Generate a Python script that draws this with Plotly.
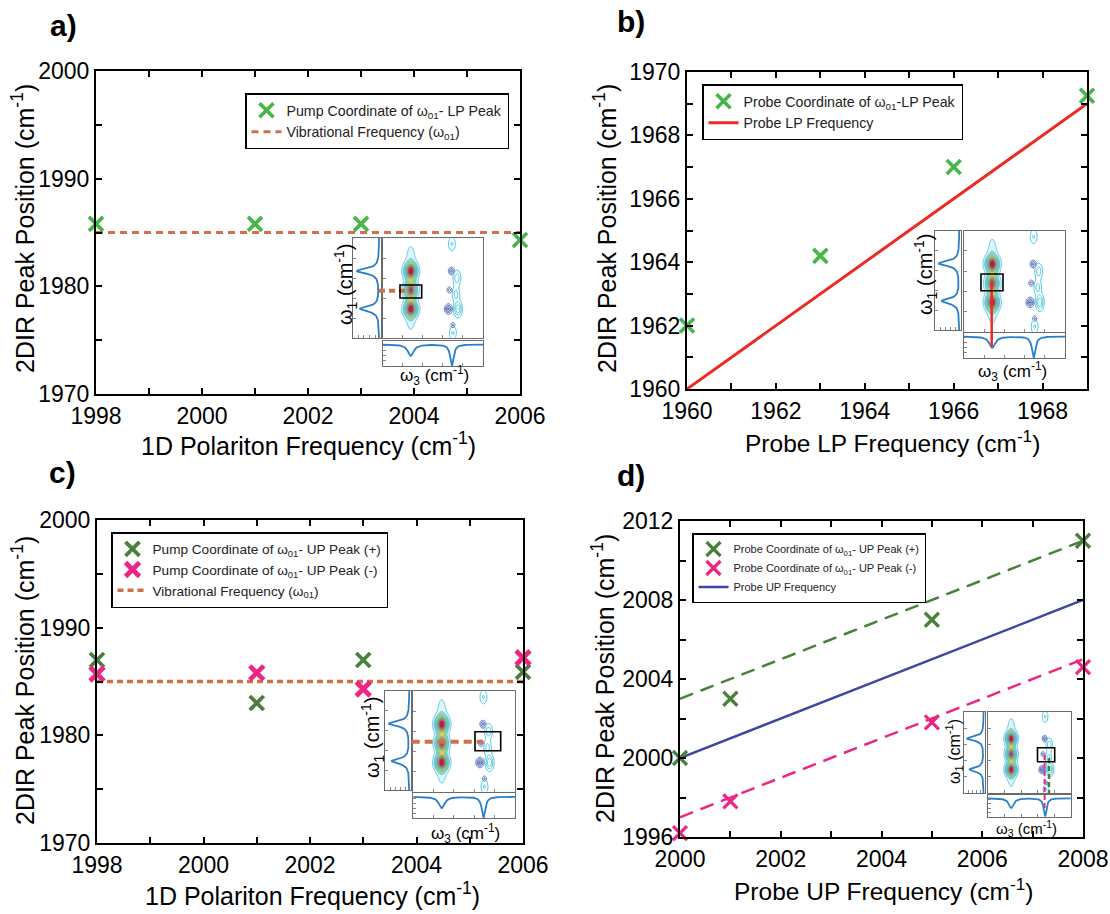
import numpy as np
import plotly.graph_objects as go

W, H = 1110, 914
FONT = "Liberation Sans, Arial, sans-serif"

# ---------------- data ----------------
A_X = [1998, 2001, 2003, 2006]
A_LP_PUMP = [1985.8, 1985.8, 1985.8, 1984.3]
A_VIB_X = [1998, 2006]
A_VIB_Y = [1985, 1985]

B_X = [1960, 1963, 1966, 1969]
B_LP_PROBE = [1962.0, 1964.2, 1967.0, 1969.25]
B_LINE_X = [1960, 1969]
B_LINE_Y = [1960, 1969]

C_X = [1998, 2001, 2003, 2006]
C_UP_PLUS = [1987.0, 1983.0, 1987.0, 1985.9]
C_UP_MINUS = [1985.7, 1985.8, 1984.3, 1987.2]
C_VIB_X = [1998, 2006]
C_VIB_Y = [1985, 1985]

D_X = [2000, 2001, 2005, 2008]
D_UP_PLUS = [2000.0, 2003.0, 2007.0, 2011.0]
D_UP_MINUS = [1996.2, 1997.8, 2001.8, 2004.6]
D_LINE_X = [2000, 2008]
D_UP_FREQ = [2000, 2008]
D_PLUS_FIT = [2003, 2011]
D_MINUS_FIT = [1997, 2005]

# tick label values and minor tick spacing
A_XLABELS = [1998, 2000, 2002, 2004, 2006]
A_YLABELS = [1970, 1980, 1990, 2000]
B_XLABELS = [1960, 1962, 1964, 1966, 1968]
B_YLABELS = [1960, 1962, 1964, 1966, 1968, 1970]
D_XLABELS = [2000, 2002, 2004, 2006, 2008]
D_YLABELS = [1996, 2000, 2004, 2008, 2012]

# inset (2D IR spectrum) peak lists, in inset fractional units
DIAG_X = [0.28, 0.28, 0.28]
DIAG_Y = [0.67, 0.48, 0.29]
DIAG_AMP = [1.0, 0.8, 1.0]
NEG_X = [0.685, 0.665, 0.655, 0.70]
NEG_Y = [0.67, 0.48, 0.29, 0.13]
NEG_AMP = [-0.6, -0.45, -0.8, -0.4]
NEG_W = [0.018, 0.016, 0.022, 0.014]
POS_X = [0.74, 0.73, 0.75, 0.69, 0.70]
POS_Y = [0.60, 0.44, 0.29, 0.94, 0.05]
POS_AMP = [0.4, 0.35, 0.6, 0.3, 0.3]
SPEC1_POS = [0.67, 0.29]
SPEC1_DEPTH = [0.8, 0.7]
SPEC3_POS = [0.28, 0.69]
SPEC3_DEPTH = [0.45, 0.85]


def px(x):
    return x / W


def py(y):
    return 1 - y / H


fig = go.Figure()

# ---------------- main axes ----------------
MAIN = {
    1: ([96, 520], [71, 394]),
    2: ([687, 1087], [72, 389]),
    3: ([97, 523], [520, 843]),
    4: ([680, 1083], [521, 837]),
}


def main_axis(dom, horizontal, rng, labels, minor_dtick, anchor):
    return dict(
        domain=[px(dom[0]), px(dom[1])] if horizontal else [py(dom[1]), py(dom[0])],
        range=rng, anchor=anchor, showline=True, linewidth=2, linecolor="black",
        mirror="ticks", ticks="inside", ticklen=6, tickwidth=1.5, tickcolor="black",
        tickmode="array", tickvals=labels, ticktext=[str(v) for v in labels],
        minor=dict(dtick=minor_dtick, tick0=rng[0], ticks="inside", ticklen=6,
                   tickwidth=1.5, tickcolor="black", showgrid=False),
        showgrid=False, zeroline=False, automargin=False,
        tickfont=dict(family=FONT, size=23, color="black"), fixedrange=True,
    )


layout_axes = {}
layout_axes["xaxis"] = main_axis(MAIN[1][0], True, [1998, 2006], A_XLABELS, 1, "y")
layout_axes["yaxis"] = main_axis(MAIN[1][1], False, [1970, 2000], A_YLABELS, 5, "x")
layout_axes["xaxis2"] = main_axis(MAIN[2][0], True, [1960, 1969], B_XLABELS, 1, "y2")
layout_axes["yaxis2"] = main_axis(MAIN[2][1], False, [1960, 1970], B_YLABELS, 1, "x2")
layout_axes["xaxis3"] = main_axis(MAIN[3][0], True, [1998, 2006], A_XLABELS, 1, "y3")
layout_axes["yaxis3"] = main_axis(MAIN[3][1], False, [1970, 2000], A_YLABELS, 5, "x3")
layout_axes["xaxis4"] = main_axis(MAIN[4][0], True, [2000, 2008], D_XLABELS, 1, "y4")
layout_axes["yaxis4"] = main_axis(MAIN[4][1], False, [1996, 2012], D_YLABELS, 2, "x4")

GREEN = "#46b649"
DGREEN = "#4b7f3e"
PINK = "#ef2585"
ORANGE = "#d0714e"
RED = "#ee2a24"
BLUE = "#3f48a0"


def xmark(color, width=3.6, size=14):
    return dict(symbol="x-thin", size=size, color=color, line=dict(color=color, width=width))


# panel a
fig.add_trace(go.Scatter(x=A_VIB_X, y=A_VIB_Y, mode="lines", xaxis="x", yaxis="y",
                         line=dict(color=ORANGE, width=3, dash="7px,5px"),
                         name="Vibrational Frequency (ω<sub>01</sub>)", legend="legend",
                         legendrank=2, cliponaxis=False))
fig.add_trace(go.Scatter(x=A_X, y=A_LP_PUMP, mode="markers", xaxis="x", yaxis="y",
                         marker=xmark(GREEN), name="Pump Coordinate of ω<sub>01</sub>- LP Peak",
                         legend="legend", legendrank=1, cliponaxis=False))
# panel b
fig.add_trace(go.Scatter(x=B_LINE_X, y=B_LINE_Y, mode="lines", xaxis="x2", yaxis="y2",
                         line=dict(color=RED, width=3), name="Probe LP Frequency",
                         legend="legend2", legendrank=2, cliponaxis=False))
fig.add_trace(go.Scatter(x=B_X, y=B_LP_PROBE, mode="markers", xaxis="x2", yaxis="y2",
                         marker=xmark(GREEN), name="Probe Coordinate of ω<sub>01</sub>-LP Peak",
                         legend="legend2", legendrank=1, cliponaxis=False))
# panel c
fig.add_trace(go.Scatter(x=C_VIB_X, y=C_VIB_Y, mode="lines", xaxis="x3", yaxis="y3",
                         line=dict(color=ORANGE, width=3.5, dash="6px,4px"),
                         name="Vibrational Frequency (ω<sub>01</sub>)", legend="legend3",
                         legendrank=3, cliponaxis=False))
fig.add_trace(go.Scatter(x=C_X, y=C_UP_PLUS, mode="markers", xaxis="x3", yaxis="y3",
                         marker=xmark(DGREEN, 3.8), name="Pump Coordinate of ω<sub>01</sub>- UP Peak (+)",
                         legend="legend3", legendrank=1, cliponaxis=False))
fig.add_trace(go.Scatter(x=C_X, y=C_UP_MINUS, mode="markers", xaxis="x3", yaxis="y3",
                         marker=xmark(PINK, 4.8), name="Pump Coordinate of ω<sub>01</sub>- UP Peak (-)",
                         legend="legend3", legendrank=2, cliponaxis=False))
# panel d
fig.add_trace(go.Scatter(x=D_LINE_X, y=D_PLUS_FIT, mode="lines", xaxis="x4", yaxis="y4",
                         line=dict(color=DGREEN, width=2.5, dash="14px,8px"), showlegend=False,
                         cliponaxis=False))
fig.add_trace(go.Scatter(x=D_LINE_X, y=D_MINUS_FIT, mode="lines", xaxis="x4", yaxis="y4",
                         line=dict(color=PINK, width=2.5, dash="14px,8px"), showlegend=False,
                         cliponaxis=False))
fig.add_trace(go.Scatter(x=D_LINE_X, y=D_UP_FREQ, mode="lines", xaxis="x4", yaxis="y4",
                         line=dict(color=BLUE, width=2.5), name="Probe UP Frequency",
                         legend="legend4", legendrank=3, cliponaxis=False))
fig.add_trace(go.Scatter(x=D_X, y=D_UP_PLUS, mode="markers", xaxis="x4", yaxis="y4",
                         marker=xmark(DGREEN, 3.2), name="Probe Coordinate of ω<sub>01</sub>- UP Peak (+)",
                         legend="legend4", legendrank=1, cliponaxis=False))
fig.add_trace(go.Scatter(x=D_X, y=D_UP_MINUS, mode="markers", xaxis="x4", yaxis="y4",
                         marker=xmark(PINK, 3.2), name="Probe Coordinate of ω<sub>01</sub>- UP Peak (-)",
                         legend="legend4", legendrank=2, cliponaxis=False))

# ---------------- insets ----------------
INSETS = [
    # left spectrum, main 2D, bottom spectrum  (pixel boxes: x0,x1,y0,y1)
    ((352.7, 380.7, 238, 338), (382.7, 483, 238, 338), (382.7, 483, 340.7, 366)),
    ((935, 960.7, 230.7, 330), (964, 1065, 230.7, 331.7), (964, 1065, 332.7, 358)),
    ((385, 410.7, 691, 790), (413.3, 515, 691, 791.7), (413.3, 515, 793, 818)),
    ((964, 984.8, 711.7, 793.3), (988, 1070.8, 711.7, 793.3), (988, 1070.8, 795, 816.7)),
]

g = np.linspace(0, 1, 121)
GX, GY = np.meshgrid(g, g)


def gauss(x0, y0, sx, sy):
    return np.exp(-((GX - x0) ** 2 / (2 * sx ** 2) + (GY - y0) ** 2 / (2 * sy ** 2)))


Zdiag = 0.2 * np.exp(-((GX - 0.28) ** 2 / (2 * 0.035 ** 2)) - ((GY - 0.5) ** 2 / (2 * 0.3 ** 2)) ** 2)
for x0, y0, a in zip(DIAG_X, DIAG_Y, DIAG_AMP):
    Zdiag = Zdiag + a * gauss(x0, y0, 0.04, 0.05)
Zneg = np.zeros_like(GX)
for x0, y0, a, w in zip(NEG_X, NEG_Y, NEG_AMP, NEG_W):
    Zneg = Zneg + a * gauss(x0, y0, w, w * 1.3)
Zpos = np.zeros_like(GX)
for x0, y0, a in zip(POS_X, POS_Y, POS_AMP):
    Zpos = Zpos + a * gauss(x0, y0, 0.025, 0.05)


def lor(u, c, gam):
    return gam ** 2 / ((u - c) ** 2 + gam ** 2)


spec1 = 0.95 - sum(d * lor(g, c, 0.03) for c, d in zip(SPEC1_POS, SPEC1_DEPTH))
spec3 = 0.85 - SPEC3_DEPTH[0] * lor(g, SPEC3_POS[0], 0.035) - SPEC3_DEPTH[1] * lor(g, SPEC3_POS[1], 0.02)


def inset_axis(box, horizontal, anchor):
    x0, x1, y0, y1 = box
    return dict(
        domain=[px(x0), px(x1)] if horizontal else [py(y1), py(y0)],
        range=[0, 1], anchor=anchor, showline=True, linecolor="#6a6a6a", linewidth=1.2,
        mirror=True, ticks="inside", ticklen=3, tickcolor="#888", tickwidth=0.8,
        dtick=0.2, tick0=0, showticklabels=False, showgrid=False,
        zeroline=False, fixedrange=True, automargin=False,
    )


DIAG_SCALE = [[0, "white"], [0.1, "#f2fbfe"], [0.2, "#9fe0f4"], [0.3, "#a9dc6e"],
              [0.42, "#f4ec3a"], [0.6, "#f8b030"], [0.78, "#ef5a22"], [1, "#d8141c"]]

for p, (lb, mb, bb) in enumerate(INSETS):
    il, im, ib = 5 + 3 * p, 6 + 3 * p, 7 + 3 * p
    for idx, box in ((il, lb), (im, mb), (ib, bb)):
        layout_axes[f"xaxis{idx}"] = inset_axis(box, True, f"y{idx}")
        layout_axes[f"yaxis{idx}"] = inset_axis(box, False, f"x{idx}")
    fig.add_trace(go.Scatter(x=spec1, y=g, mode="lines", xaxis=f"x{il}", yaxis=f"y{il}",
                             line=dict(color="#2a7fc9", width=1.8), showlegend=False))
    fig.add_trace(go.Scatter(x=g, y=spec3, mode="lines", xaxis=f"x{ib}", yaxis=f"y{ib}",
                             line=dict(color="#2a7fc9", width=1.8), showlegend=False))
    fig.add_trace(go.Contour(x=g, y=g, z=Zdiag, xaxis=f"x{im}", yaxis=f"y{im}",
                             colorscale=DIAG_SCALE, zmin=0, zmax=1, showscale=False,
                             contours=dict(start=0.08, end=0.95, size=0.12, coloring="fill"),
                             line=dict(color="#35b5e6", width=0.7), hoverinfo="skip"))
    fig.add_trace(go.Contour(x=g, y=g, z=Zneg, xaxis=f"x{im}", yaxis=f"y{im}",
                             colorscale=[[0, "#2f3f98"], [1, "#5a6fc0"]], showscale=False,
                             contours=dict(start=-0.75, end=-0.15, size=0.2, coloring="lines"),
                             line=dict(width=1), hoverinfo="skip"))
    fig.add_trace(go.Contour(x=g, y=g, z=Zpos, xaxis=f"x{im}", yaxis=f"y{im}",
                             colorscale=[[0, "#3cc3ee"], [1, "#5fcfb0"]], showscale=False,
                             contours=dict(start=0.12, end=0.6, size=0.16, coloring="lines"),
                             line=dict(width=1), hoverinfo="skip"))

# ---------------- shapes ----------------
shapes = []


def rect(x0, y0, x1, y1):
    shapes.append(dict(type="rect", xref="paper", yref="paper", x0=px(x0), x1=px(x1),
                       y0=py(y1), y1=py(y0), line=dict(color="black", width=1.6), layer="above"))


def seg(x0, y0, x1, y1, color, width, dash="solid"):
    shapes.append(dict(type="line", xref="paper", yref="paper", x0=px(x0), x1=px(x1),
                       y0=py(y0), y1=py(y1), line=dict(color=color, width=width, dash=dash),
                       layer="above"))


seg(379, 290.7, 408, 290.7, ORANGE, 4, "6px,4px")
rect(400, 285, 421.7, 298)
seg(991.7, 346.7, 991.7, 281.7, RED, 2.5)
rect(981, 274, 1003, 290.7)
seg(411.7, 741.7, 483.3, 741.7, ORANGE, 4, "8px,5px")
rect(475, 731.7, 500.7, 750.7)
seg(1044.6, 755, 1044.6, 808, PINK, 2, "5px,3px")
seg(1049, 758, 1049, 793, DGREEN, 2.5, "5px,3px")
rect(1037.5, 747.7, 1054.7, 761.7)

# ---------------- annotations ----------------
ann = []


def text(x, y, s, size, angle=0, bold=False):
    ann.append(dict(x=px(x), y=py(y), xref="paper", yref="paper", text=f"<b>{s}</b>" if bold else s,
                    showarrow=False, textangle=angle, xanchor="center", yanchor="middle",
                    font=dict(family=FONT, size=size, color="black")))


YT = "2DIR Peak Position (cm<sup>-1</sup>)"
text(23, 229, YT, 25, -90)
text(605, 229, YT, 25, -90)
text(23, 681, YT, 25, -90)
text(603, 679, YT, 25, -90)
text(308, 444, "1D Polariton Frequency (cm<sup>-1</sup>)", 25)
text(892, 441, "Probe LP Frequency (cm<sup>-1</sup>)", 24.5)
text(312, 894, "1D Polariton Frequency (cm<sup>-1</sup>)", 25)
text(883, 889, "Probe UP Frequency (cm<sup>-1</sup>)", 24.5)
text(63, 25, "a)", 30, bold=True)
text(631, 22, "b)", 30, bold=True)
text(62, 473, "c)", 30, bold=True)
text(631, 475, "d)", 30, bold=True)

W1 = "ω<sub>1</sub> (cm<sup>-1</sup>)"
W3 = "ω<sub>3</sub> (cm<sup>-1</sup>)"
text(346, 285, W1, 20, -90)
text(434, 375, W3, 17)
text(925, 275, W1, 20, -90)
text(1012, 371, W3, 17)
text(372, 738, W1, 20, -90)
text(465, 833, W3, 17)
text(954, 752, W1, 16, -90)
text(1026, 828, W3, 15)


def leg(x0, y0, size):
    return dict(x=px(x0), y=py(y0), xanchor="left", yanchor="top", xref="paper", yref="paper",
                bgcolor="white", bordercolor="black", borderwidth=1.5,
                font=dict(family=FONT, size=size, color="#222"), tracegroupgap=0, itemwidth=30)


fig.update_layout(
    width=W, height=H, margin=dict(l=0, r=0, t=0, b=0, autoexpand=False),
    paper_bgcolor="white", plot_bgcolor="rgba(0,0,0,0)",
    font=dict(family=FONT, color="black"),
    legend=leg(245, 93, 14.2),
    legend2=leg(702, 84, 14.2),
    legend3=leg(111, 532, 13.6),
    legend4=leg(692, 533, 11),
    shapes=shapes, annotations=ann,
    **layout_axes,
)

fig.write_html("out.html", config={"displayModeBar": False},
               post_script="document.body.style.margin='0';document.body.style.overflow='hidden';")
